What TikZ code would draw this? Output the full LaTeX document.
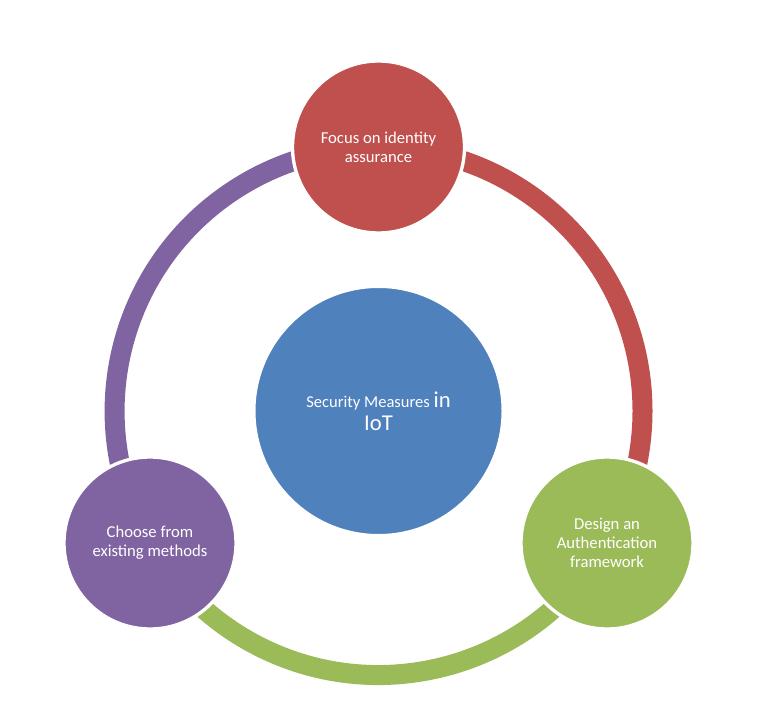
\documentclass[tikz,border=0pt]{standalone}
\usepackage{fontspec}
\setmainfont{Carlito}
\usetikzlibrary{backgrounds}
\definecolor{cred}{HTML}{C0504D}
\definecolor{cgreen}{HTML}{9BBB59}
\definecolor{cpurple}{HTML}{8064A2}
\definecolor{cblue}{HTML}{4F81BD}
\tikzset{
  bubble/.style={circle, draw=white, line width=2.5pt, minimum size=129pt, inner sep=0pt,
    text=white, align=center, font=\fontsize{12.5}{14.2}\selectfont},
  hub/.style={circle, draw=white, line width=2.5pt, fill=cblue, minimum size=187pt, inner sep=0pt,
    text=white, align=center, font=\fontsize{12.4}{17.3}\selectfont},
  ring/.style={line width=15pt, line cap=butt}
}
\begin{document}
\begin{tikzpicture}[x=0.75pt,y=0.75pt]
\useasboundingbox (0,0) rectangle (770,722);
\node[hub] (hub) at (378.5,311) {Security Measures {\fontsize{17}{17.3}\selectfont in}\\{\fontsize{17}{17.3}\selectfont IoT}};
\node[bubble, fill=cred] (top) at (378.5,575) {Focus on identity\\assurance};
\node[bubble, fill=cgreen] (right) at (607,179) {Design an\\Authentication\\framework};
\node[bubble, fill=cpurple] (left) at (150,179) {\raisebox{0pt}[\height][\depth]{Choose from}\\existing methods};
\begin{scope}[on background layer]
\draw[ring, cred] (top.center) arc[start angle=90, end angle=-30, radius=198pt];
\draw[ring, cgreen] (right.center) arc[start angle=-30, end angle=-150, radius=198pt];
\draw[ring, cpurple] (left.center) arc[start angle=210, end angle=90, radius=198pt];
\end{scope}
\end{tikzpicture}
\end{document}
